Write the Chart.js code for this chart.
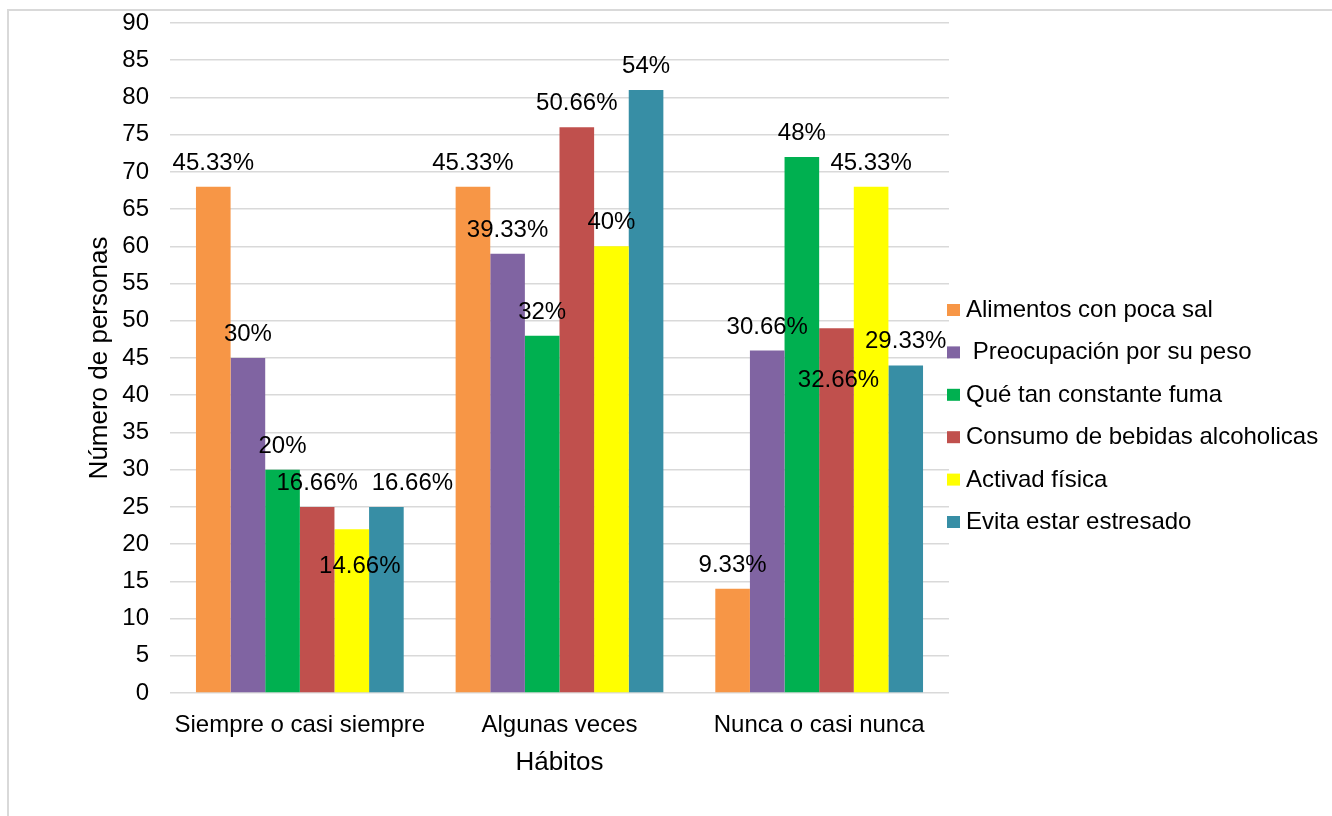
<!DOCTYPE html>
<html lang="es">
<head>
<meta charset="utf-8">
<title>Hábitos</title>
<script src="https://cdn.jsdelivr.net/npm/chart.js@4.4.1/dist/chart.umd.min.js"></script>
<style>
html, body { margin: 0; padding: 0; background: #fff; overflow: hidden; }
#marco { position: absolute; left: 7px; top: 9px; width: 1400px; height: 900px; border: 2px solid #d9d9d9; }
#lienzo { position: absolute; left: 0; top: 0; }
</style>
</head>
<body>
<div id="marco"></div>
<canvas id="lienzo" width="1332" height="816"></canvas>
<script>
// datos de la encuesta (número de personas, 150 encuestados)
const totalEncuestados = 150;
const categorias = ["Siempre o casi siempre", "Algunas veces", "Nunca o casi nunca"];

const alimentosSal = [68, 68, 14];
const preocupacionPeso = [45, 59, 46];
const fuma = [30, 48, 72];
const bebidas = [25, 76, 49];
const actividad = [22, 60, 68];
const estres = [25, 81, 44];

const series = [
  "Alimentos con poca sal",
  " Preocupación por su peso",
  "Qué tan constante fuma",
  "Consumo de bebidas alcoholicas",
  "Activad física",
  "Evita estar estresado"
];
const colores = ["#F79646", "#8064A2", "#00B050", "#C0504D", "#FFFF00", "#378EA5"];

const fuente = "'Liberation Sans', Arial, sans-serif";

// algunas etiquetas van corridas para que no se encimen
const ajusteEtiqueta = {
  "4,0": [8, 61],
  "5,0": [26, 0],
  "3,2": [2, 76]
};

function porcentaje(v) {
  return String(Math.floor(v * 10000 / totalEncuestados) / 100) + "%";
}

const etiquetas = {
  id: "etiquetas",
  afterDatasetsDraw(chart) {
    const ctx = chart.ctx;
    ctx.save();
    ctx.font = "24px " + fuente;
    ctx.fillStyle = "#000";
    ctx.textAlign = "center";
    ctx.textBaseline = "alphabetic";
    chart.data.datasets.forEach((ds, i) => {
      chart.getDatasetMeta(i).data.forEach((bar, j) => {
        const aj = ajusteEtiqueta[i + "," + j] || [0, 0];
        ctx.fillText(porcentaje(ds.data[j]), bar.x + aj[0], bar.y - 17 + aj[1]);
      });
    });
    ctx.restore();
  }
};

const leyenda = {
  id: "leyenda",
  afterDraw(chart) {
    const ctx = chart.ctx;
    ctx.save();
    ctx.font = "24px " + fuente;
    ctx.textBaseline = "alphabetic";
    ctx.textAlign = "left";
    chart.data.datasets.forEach((ds, i) => {
      const base = 317 + i * 42.4;
      ctx.fillStyle = ds.backgroundColor;
      ctx.fillRect(947, base - 13, 13, 12);
      ctx.fillStyle = "#000";
      ctx.fillText(ds.label, 966, base);
    });
    ctx.restore();
  }
};

const valores = [alimentosSal, preocupacionPeso, fuma, bebidas, actividad, estres];

new Chart(document.getElementById("lienzo"), {
  type: "bar",
  data: {
    labels: categorias,
    datasets: series.map((nombre, i) => ({
      label: nombre,
      data: valores[i],
      backgroundColor: colores[i],
      borderWidth: 0,
      categoryPercentage: 0.8,
      barPercentage: 1.0
    }))
  },
  options: {
    responsive: false,
    animation: false,
    layout: { padding: { left: 0, top: 23, right: 383, bottom: 0 } },
    plugins: {
      legend: { display: false },
      tooltip: { enabled: false }
    },
    scales: {
      x: {
        grid: { display: false, drawTicks: false },
        border: { display: false },
        ticks: { color: "#000", font: { family: fuente, size: 24 }, padding: 18 },
        title: {
          display: true,
          text: "Hábitos",
          color: "#000",
          font: { family: fuente, size: 26 },
          padding: { top: 0, bottom: 38 }
        },
        afterFit(scale) { scale.height = 123; }
      },
      y: {
        min: 0,
        max: 90,
        grid: { color: "#d9d9d9", lineWidth: 1.5, drawTicks: false },
        border: { display: false },
        ticks: { stepSize: 5, color: "#000", font: { family: fuente, size: 24 }, padding: 21 },
        title: {
          display: true,
          text: "Número de personas",
          color: "#000",
          font: { family: fuente, size: 26 },
          padding: { top: 84, bottom: 0 }
        },
        afterFit(scale) {
          scale.width = 170;
          scale.paddingTop = 0;
          scale.paddingBottom = 0;
        }
      }
    }
  },
  plugins: [etiquetas, leyenda]
});
</script>
</body>
</html>
